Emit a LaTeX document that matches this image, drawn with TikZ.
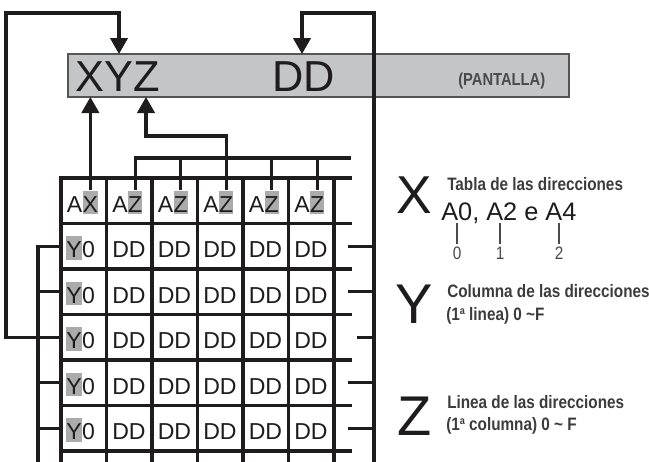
\documentclass[tikz,border=0pt]{standalone}
\usepackage{fontspec}
\setmainfont{Liberation Sans}
\newfontfamily\condbold[FakeStretch=0.85]{Liberation Sans Bold}
\newfontfamily\condreg[FakeStretch=0.85]{Liberation Sans}
\usetikzlibrary{arrows.meta}

\definecolor{ink}{HTML}{1E1C1D}
\definecolor{barfill}{HTML}{C4C5C7}
\definecolor{barline}{HTML}{555555}
\definecolor{hlgray}{HTML}{ABABAB}
\definecolor{labelgray}{HTML}{3C3C3C}
\definecolor{softgray}{HTML}{4A4A4A}

\tikzset{
  wire/.style={draw=ink, line width=2.3pt},
  gridline/.style={draw=ink, line width=2.5pt, line cap=rect},
  feed/.style={wire, -{Triangle[length=12pt,width=13pt]}},
  celltext/.style={anchor=base west, inner sep=0, text=ink, font=\fontsize{17.3}{18}\selectfont},
  hl/.style={celltext, fill=hlgray, text height=16pt, text depth=1.5pt},
  desc/.style={anchor=base west, inner sep=0, text=labelgray, font=\condbold\fontsize{13.5}{14}\selectfont},
  bigletter/.style={anchor=base west, inner sep=0, text=ink, font=\fontsize{41}{41}\selectfont},
  digit/.style={anchor=base, inner sep=0, text=softgray, font=\condreg\fontsize{13.5}{14}\selectfont},
  tick/.style={draw=softgray, line width=0.8pt},
}

\newcommand\supa{\raisebox{0.55ex}{\fontsize{8}{8}\selectfont a}}

\begin{document}
\begin{tikzpicture}[x=0.75pt, y=-0.75pt]
  \useasboundingbox (0,0) rectangle (649,461);

  % display bar
  \node[draw=barline, fill=barfill, line width=1pt, anchor=north west, outer sep=0,
        inner sep=0, minimum width=375.75pt, minimum height=32.25pt] (bar) at (68,54) {};
  \node[anchor=base west, inner sep=0, text=ink, font=\fontsize{32.5}{33}\selectfont] (xyz) at (75,91) {XYZ};
  \node[anchor=base west, inner sep=0, text=ink, font=\fontsize{32.5}{33}\selectfont] (dd) at (272,91) {DD};
  \node[desc, text=softgray, font=\condbold\fontsize{13}{13}\selectfont] (pantalla) at (458,85) {(PANTALLA)};

  % table grid
  \foreach \r in {0,...,6}
    \draw[gridline] (61,{178+45.5*\r}) -- (350.5,{178+45.5*\r});
  \foreach \c in {0,...,6}
    \draw[gridline] ({61+45.5*\c},178) -- ({61+45.5*\c},470);

  % header row
  \node[celltext] (a0) at (66.5,212) {A};
  \node[hl] (x0) at (a0.base east) {X};
  \foreach \c in {1,...,5} {
    \node[celltext] (a\c) at ({61+45.5*\c+5.5},212) {A};
    \node[hl] (z\c) at (a\c.base east) {Z};
  }

  % data rows
  \foreach \r in {1,...,5} {
    \pgfmathsetmacro\yb{178+45.5*\r+34}
    \pgfmathsetmacro\yc{178+45.5*\r+22.75}
    \node[hl] (y\r) at (66,\yb) {Y};
    \node[celltext] (n\r) at (y\r.base east) {0};
    \foreach \c in {1,...,5}
      \node[celltext] (d\r-\c) at ({61+45.5*\c+5.5},\yb) {DD};
    \coordinate (rl\r) at (61,\yc);
    \coordinate (rr\r) at (348,\yc);
  }
  \coordinate (rr3) at (357,337.25);

  % connection points
  \coordinate (lbus) at (38,0);
  \coordinate (zbus) at (0,158);
  \coordinate (zturn) at (146,136);
  \coordinate (tl) at (6,13);
  \coordinate (tr) at (374,13);
  \coordinate (rbot) at (374,470);
  \coordinate (yin) at (119,54);
  \coordinate (ddin) at (302,54);
  \coordinate (zin) at (146,97);

  % column address bus
  \draw[wire] (z1.north) -- (z1.north |- zbus) -- (351,158);
  \foreach \c in {2,...,5}
    \draw[wire] (z\c.north |- zbus) -- (z\c.north);
  \draw[feed] (z3.north |- zbus) -- (z3.north |- zturn) -| (zin);

  % table address
  \draw[feed] (x0.north) -- (x0.north |- bar.south);

  % row address bus
  \draw[wire] (rl1) -- (lbus |- rl1) -- (38,470);
  \foreach \r in {2,...,5}
    \draw[wire] (lbus |- rl\r) -- (rl\r);
  \draw[feed] (lbus |- rl3) -| (tl) -| (yin);

  % data return
  \draw[feed] (rbot) -- (tr) -| (ddin);
  \foreach \r in {1,...,5}
    \draw[wire] (rr\r) -- (rr\r -| tr);

  % legend
  \node[bigletter, font=\fontsize{40}{40}\selectfont] (lx) at (396,213) {X};
  \node[desc] (tx1) at (447,190) {Tabla de las direcciones};
  \node[anchor=base west, inner sep=0, text=ink, font=\fontsize{19}{19}\selectfont] (tx2) at (441,220) {A0, A2 e A4};
  \coordinate (t0) at (457,223);
  \coordinate (t1) at (500,223);
  \coordinate (t2) at (559,223);
  \node[digit] (g0) at (457,259) {0};
  \node[digit] (g1) at (500,259) {1};
  \node[digit] (g2) at (559,259) {2};
  \foreach \i in {0,1,2}
    \draw[tick] (t\i) -- ([yshift=2pt]g\i.north);

  \node[bigletter, font=\fontsize{42}{42}\selectfont] (ly) at (395,323) {Y};
  \node[desc] (ty1) at (447,297) {Columna de las direcciones};
  \node[desc] (ty2) at (446,320) {(1\supa\ linea) 0 \textasciitilde F};

  \node[bigletter, font=\fontsize{42}{42}\selectfont] (lz) at (397,435) {Z};
  \node[desc] (tz1) at (447,408) {Linea de las direcciones};
  \node[desc] (tz2) at (446,430) {(1\supa\ columna) 0 \textasciitilde\ F};
\end{tikzpicture}
\end{document}
